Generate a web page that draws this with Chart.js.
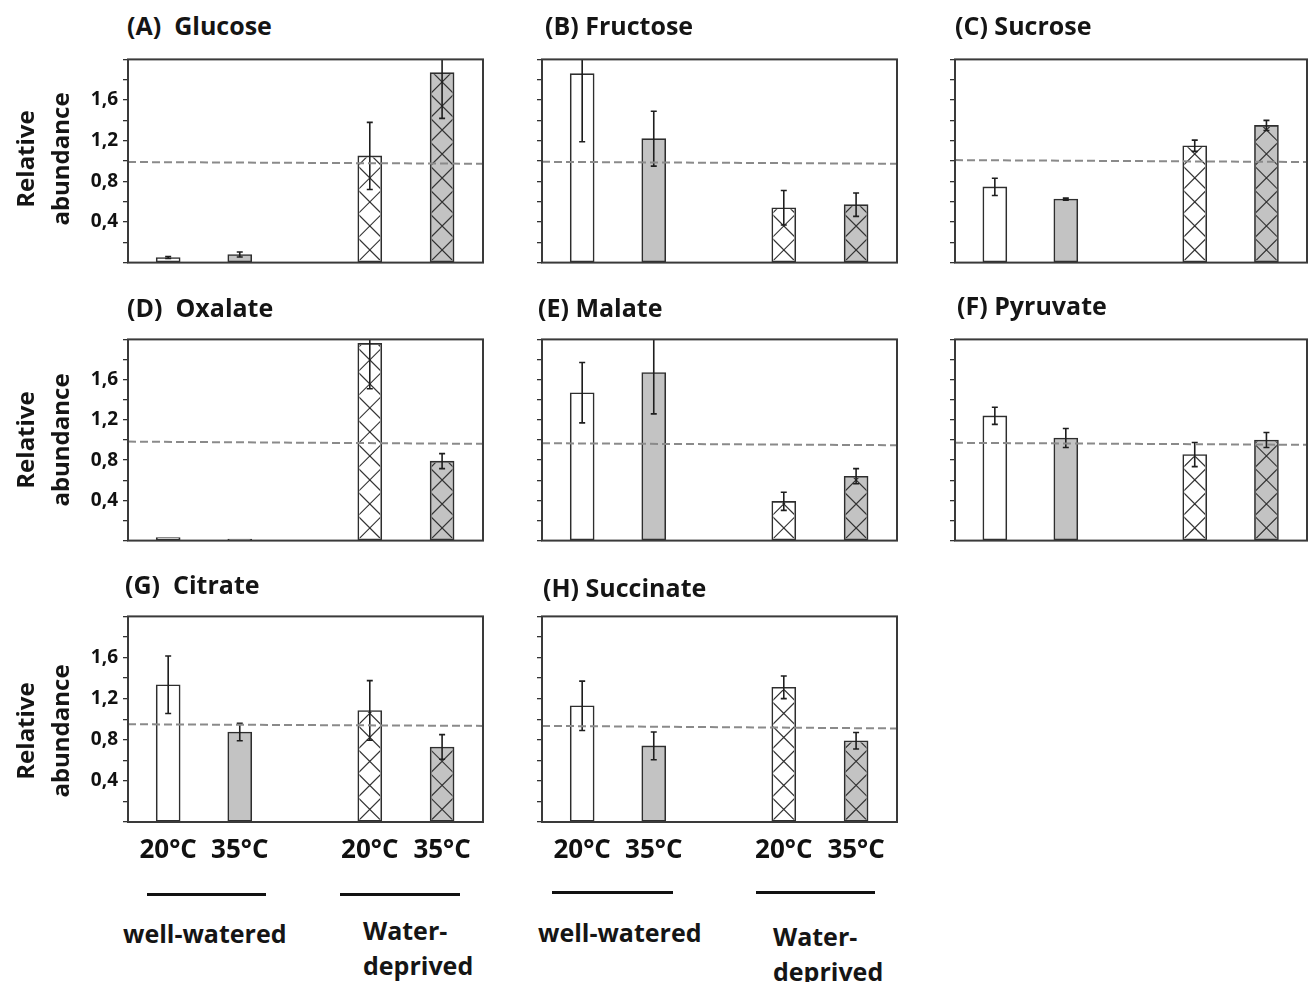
<!DOCTYPE html>
<html>
<head>
<meta charset="utf-8">
<title>Relative abundance of sugars and organic acids</title>
<script src="https://cdn.jsdelivr.net/npm/chart.js@4.4.1/dist/chart.umd.min.js"></script>
<style>
  html, body { margin: 0; padding: 0; background: #fff; }
  #page { position: relative; width: 1311px; height: 982px; overflow: hidden;
          font-family: 'Open Sans', 'DejaVu Sans', sans-serif; font-weight: 700; color: #151515; }
  .abs { position: absolute; }
  .abs canvas { display: block; }
  .title { font-size: 25px; line-height: 32px; white-space: pre; }
  .ylab { font-size: 24px; line-height: 35px; width: 180px; height: 70px; text-align: center; transform: rotate(-90deg); }
  .grp { font-size: 25px; line-height: 35px; white-space: pre; }
  .grp-line { height: 3px; background: #111; }
</style>
</head>
<body>
<div id="page"></div>
<script>
// values (relative abundance, mean / error / dashed reference left-right)
const tempLabels = ['20°C', '35°C', '20°C', '35°C'];
const groupNames = ['well-watered', 'Water-\ndeprived'];
const yTickLabels = [0.4, 0.8, 1.2, 1.6];

const glucose      = [0.05, 0.08, 1.05, 1.87];
const glucoseErr   = [0.01, 0.025, 0.33, 0.45];
const glucoseRef   = [0.99, 0.973];
const fructose     = [1.86, 1.22, 0.54, 0.57];
const fructoseErr  = [0.67, 0.27, 0.17, 0.115];
const fructoseRef  = [0.992, 0.973];
const sucrose      = [0.745, 0.625, 1.15, 1.35];
const sucroseErr   = [0.085, 0.01, 0.055, 0.05];
const sucroseRef   = [1.009, 0.99];
const oxalate      = [0.03, 0.015, 1.96, 0.79];
const oxalateErr   = [0, 0, 0.45, 0.075];
const oxalateRef   = [0.984, 0.962];
const malate       = [1.47, 1.67, 0.39, 0.64];
const malateErr    = [0.3, 0.41, 0.09, 0.075];
const malateRef    = [0.968, 0.948];
const pyruvate     = [1.24, 1.02, 0.855, 1.0];
const pyruvateErr  = [0.085, 0.095, 0.12, 0.075];
const pyruvateRef  = [0.972, 0.952];
const citrate      = [1.335, 0.875, 1.085, 0.73];
const citrateErr   = [0.28, 0.085, 0.29, 0.12];
const citrateRef   = [0.951, 0.935];
const succinate    = [1.13, 0.74, 1.31, 0.79];
const succinateErr = [0.24, 0.135, 0.11, 0.08];
const succinateRef = [0.935, 0.91];

const panels = [
    { title: '(A)  Glucose',  mean: glucose,   err: glucoseErr,   ref: glucoseRef },
    { title: '(B) Fructose',  mean: fructose,  err: fructoseErr,  ref: fructoseRef },
    { title: '(C) Sucrose',   mean: sucrose,   err: sucroseErr,   ref: sucroseRef },
    { title: '(D)  Oxalate',  mean: oxalate,   err: oxalateErr,   ref: oxalateRef },
    { title: '(E) Malate',    mean: malate,    err: malateErr,    ref: malateRef },
    { title: '(F) Pyruvate',  mean: pyruvate,  err: pyruvateErr,  ref: pyruvateRef },
    { title: '(G)  Citrate',  mean: citrate,   err: citrateErr,   ref: citrateRef },
    { title: '(H) Succinate', mean: succinate, err: succinateErr, ref: succinateRef }
];

// where the 4 bars sit on the x number line (two groups with a gap)
const xSlots = [0.55, 1.53, 3.31, 4.30];
const xSlotMax = 4.86;

// styling / layout
const fills = ['#ffffff', '#c3c3c3', '#ffffff', '#c3c3c3'];
const hatched = [false, false, true, true];
const colLeft = [128, 542, 955], colWidth = [355, 355, 352];
const rowTop = [57, 337, 614], rowHeight = [208, 206, 208];
const AXIS_W = 60, PAD_T = 14, PAD_R = 12, PAD_B = 14, XLAB_H = 50;
const titlePos = [[127, 9], [545, 9], [955, 9], [127, 291], [538, 291], [957, 289], [125, 568], [543, 571]];

const page = document.getElementById('page');

// crosshatch + error bars, drawn right after the bar dataset
const barExtras = {
    id: 'barExtras',
    afterDatasetDraw(chart, args) {
        const ds = chart.data.datasets[args.index];
        if (ds.type !== 'bar') return;
        const ctx = chart.ctx, a = chart.chartArea, ys = chart.scales.y;
        ctx.save();
        ctx.beginPath();
        ctx.rect(a.left, a.top, a.right - a.left, a.bottom - a.top);
        ctx.clip();
        args.meta.data.forEach(function (bar, k) {
            const p = bar.getProps(['x', 'y', 'base', 'width'], true);
            const bw = ds.borderWidth;
            const l = p.x - p.width / 2, r = p.x + p.width / 2;
            if (ds.hatched[k]) {
                ctx.save();
                ctx.beginPath();
                ctx.rect(l + bw, p.y + bw, p.width - 2 * bw, p.base - p.y - 2 * bw);
                ctx.clip();
                ctx.strokeStyle = '#333';
                ctx.lineWidth = 1.2;
                ctx.beginPath();
                for (let yy = p.base; yy > p.y - p.width; yy -= p.width) {
                    ctx.moveTo(l, yy); ctx.lineTo(r, yy - p.width);
                    ctx.moveTo(r, yy); ctx.lineTo(l, yy - p.width);
                }
                ctx.stroke();
                ctx.restore();
            }
            const e = ds.errors[k];
            if (e > 0) {
                const v = ds.data[k].y;
                const yt = ys.getPixelForValue(v + e), yb = ys.getPixelForValue(v - e);
                ctx.strokeStyle = '#1e1e1e';
                ctx.lineWidth = 1.6;
                ctx.beginPath();
                ctx.moveTo(p.x, yt); ctx.lineTo(p.x, yb);
                ctx.moveTo(p.x - 3, yt); ctx.lineTo(p.x + 3, yt);
                ctx.moveTo(p.x - 3, yb); ctx.lineTo(p.x + 3, yb);
                ctx.stroke();
            }
        });
        ctx.restore();
    }
};

// full box round the plot area
const frame = {
    id: 'frame',
    afterDraw(chart) {
        const ctx = chart.ctx, a = chart.chartArea;
        ctx.save();
        ctx.strokeStyle = '#3a3a3a';
        ctx.lineWidth = 2;
        ctx.strokeRect(a.left, a.top, a.right - a.left, a.bottom - a.top);
        ctx.restore();
    }
};

function addDiv(cls, left, top, text) {
    const d = document.createElement('div');
    d.className = 'abs ' + cls;
    d.style.left = left + 'px';
    d.style.top = top + 'px';
    if (text !== undefined) d.textContent = text;
    page.appendChild(d);
    return d;
}

function makePanel(p, i) {
    const row = Math.floor(i / 3), col = i % 3;
    const bottomRow = row === 2;
    const w = AXIS_W + colWidth[col] + PAD_R;
    const h = PAD_T + rowHeight[row] + (bottomRow ? XLAB_H : PAD_B);

    const wrap = addDiv('', colLeft[col] - AXIS_W, rowTop[row] - PAD_T);
    const cv = document.createElement('canvas');
    cv.width = w;
    cv.height = h;
    cv.style.width = w + 'px';
    cv.style.height = h + 'px';
    wrap.appendChild(cv);

    addDiv('title', titlePos[i][0], titlePos[i][1], p.title);

    new Chart(cv.getContext('2d'), {
        type: 'bar',
        data: {
            datasets: [{
                type: 'line',
                data: [{ x: 0, y: p.ref[0] }, { x: xSlotMax, y: p.ref[1] }],
                borderColor: '#8a8a8a',
                borderWidth: 2,
                borderDash: [8, 4],
                pointRadius: 0,
                order: 0
            }, {
                type: 'bar',
                data: xSlots.map(function (x, k) { return { x: x, y: p.mean[k] }; }),
                errors: p.err,
                hatched: hatched,
                backgroundColor: fills,
                borderColor: '#2e2e2e',
                borderWidth: 1.6,
                borderSkipped: false,
                barThickness: 24,
                order: 1
            }]
        },
        options: {
            responsive: false,
            animation: false,
            layout: { padding: { top: PAD_T, right: PAD_R, bottom: bottomRow ? 0 : PAD_B, left: 0 } },
            plugins: { legend: { display: false }, tooltip: { enabled: false } },
            scales: {
                x: {
                    type: 'linear',
                    min: 0,
                    max: xSlotMax,
                    offset: false,
                    display: bottomRow,
                    grid: { display: false, drawTicks: false },
                    border: { display: false },
                    afterBuildTicks: function (s) { s.ticks = xSlots.map(function (v) { return { value: v }; }); },
                    afterFit: function (s) { s.height = bottomRow ? XLAB_H : 0; },
                    ticks: {
                        autoSkip: false,
                        maxRotation: 0,
                        padding: 13,
                        color: '#111',
                        font: { family: 'Open Sans', weight: 'bold', size: 26 },
                        callback: function (v, k) { return tempLabels[k]; }
                    }
                },
                y: {
                    min: 0,
                    max: 2,
                    afterFit: function (s) { s.width = AXIS_W; },
                    grid: { drawOnChartArea: false, drawTicks: true, tickLength: 5, color: '#333', lineWidth: 1.3 },
                    border: { display: false },
                    ticks: {
                        stepSize: 0.2,
                        autoSkip: false,
                        padding: 5,
                        color: '#111',
                        font: { family: 'Open Sans', weight: 'bold', size: 19 },
                        callback: function (v) {
                            const show = col === 0 && yTickLabels.some(function (t) { return Math.abs(t - v) < 1e-6; });
                            return show ? v.toFixed(1).replace('.', ',') : '';
                        }
                    }
                }
            }
        },
        plugins: [barExtras, frame]
    });
}

panels.forEach(makePanel);

// y axis titles on the left column
[159, 440, 731].forEach(function (cy) {
    const d = addDiv('ylab', 42 - 90, cy - 35);
    d.innerHTML = 'Relative<br>abundance';
});

// group bars and group names under the bottom row
[[[147, 266], [340, 460], 894, 123, 933, 363, 930],
 [[552, 673], [756, 875], 892, 538, 932, 773, 936]].forEach(function (g) {
    [g[0], g[1]].forEach(function (seg) {
        const ln = addDiv('grp-line', seg[0], g[2] - 1.5);
        ln.style.width = (seg[1] - seg[0]) + 'px';
    });
    addDiv('grp', g[3], g[4] - 17.5, groupNames[0]);
    addDiv('grp', g[5], g[6] - 17.5, groupNames[1]);
});
</script>
</body>
</html>
